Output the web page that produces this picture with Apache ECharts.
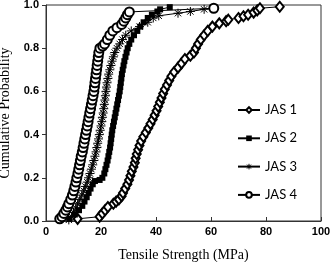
<!DOCTYPE html>
<html>
<head>
<meta charset="utf-8">
<script src="https://cdn.jsdelivr.net/npm/echarts@6/dist/echarts.min.js"></script>
<style>html,body{margin:0;padding:0;background:#fff}#c{width:331px;height:262px}</style>
</head>
<body>
<div id="c"></div>
<script>
const seriesNames = ['JAS 1', 'JAS 2', 'JAS 3', 'JAS 4'];
const xTicks = [0, 20, 40, 60, 80, 100];
const yTicks = [0.0, 0.2, 0.4, 0.6, 0.8, 1.0];

const jas1X = [11.5, 19.5, 20.5, 21.5, 22.5, 24.5, 25.5, 26.5, 27.5, 28, 28.8, 29.6, 30.2, 30.7, 31.2, 31.8, 32.3, 32.6, 33, 33.5, 34, 34.6, 35.4, 36.3, 37.2, 38, 38.8, 39.5, 40.2, 40.8, 41.4, 42, 42.6, 43.2, 44, 44.8, 45.6, 46.6, 48, 49.3, 50.5, 52.5, 53.8, 54.5, 55.3, 56.3, 57.5, 58.8, 60.5, 63, 65.5, 66.3, 70, 71.8, 73.5, 75.5, 76.8, 77.8, 85];
const jas1P = [0.01, 0.02, 0.035, 0.05, 0.065, 0.08, 0.09, 0.10, 0.115, 0.13, 0.15, 0.17, 0.19, 0.21, 0.23, 0.25, 0.27, 0.29, 0.31, 0.33, 0.35, 0.37, 0.39, 0.41, 0.43, 0.45, 0.47, 0.49, 0.51, 0.53, 0.55, 0.57, 0.59, 0.61, 0.63, 0.65, 0.67, 0.69, 0.71, 0.73, 0.75, 0.765, 0.78, 0.80, 0.82, 0.84, 0.86, 0.88, 0.90, 0.915, 0.925, 0.932, 0.94, 0.948, 0.955, 0.965, 0.975, 0.985, 0.992];

const jas2X = [8.5, 10.5, 12, 13.2, 14, 14.8, 15.5, 16.2, 17, 17.8, 19.5, 20.5, 21.2, 21.6, 22, 22.4, 22.7, 23, 23.3, 23.5, 23.7, 23.9, 24.1, 24.4, 24.7, 25, 25.3, 25.6, 25.9, 26.2, 26.5, 26.8, 27, 27.2, 27.4, 27.6, 27.9, 28.2, 28.5, 28.9, 29.3, 29.7, 30.3, 31, 32, 33.2, 34.3, 35.5, 37, 38.5, 40.5, 41.5, 45];
const jas2P = [0.01, 0.03, 0.05, 0.07, 0.09, 0.11, 0.13, 0.15, 0.17, 0.185, 0.19, 0.20, 0.22, 0.24, 0.26, 0.28, 0.30, 0.32, 0.34, 0.36, 0.38, 0.40, 0.42, 0.44, 0.46, 0.48, 0.50, 0.52, 0.54, 0.56, 0.58, 0.60, 0.62, 0.64, 0.66, 0.68, 0.70, 0.72, 0.74, 0.76, 0.78, 0.80, 0.82, 0.84, 0.86, 0.88, 0.90, 0.92, 0.94, 0.955, 0.97, 0.98, 0.99];

const jas3X = [8.3, 9.3, 10, 10.8, 11.5, 12.3, 13, 13.7, 14.3, 15, 15.5, 16, 16.5, 17, 17.4, 17.8, 18.2, 18.5, 18.8, 19.1, 19.4, 19.7, 20, 20.3, 20.5, 20.8, 21, 21.2, 21.4, 21.6, 21.8, 22, 22.2, 22.5, 22.8, 23.2, 23.6, 24, 24.5, 25, 25.8, 26.8, 27.8, 29, 31, 34, 37, 39, 41, 48, 52.5, 57.5];
const jas3P = [0.005, 0.02, 0.04, 0.06, 0.08, 0.10, 0.12, 0.14, 0.16, 0.18, 0.20, 0.22, 0.24, 0.26, 0.28, 0.30, 0.32, 0.34, 0.36, 0.38, 0.40, 0.42, 0.44, 0.46, 0.48, 0.50, 0.52, 0.54, 0.56, 0.58, 0.60, 0.62, 0.64, 0.66, 0.68, 0.70, 0.72, 0.74, 0.76, 0.78, 0.80, 0.82, 0.84, 0.86, 0.88, 0.90, 0.92, 0.94, 0.95, 0.962, 0.97, 0.98];

const jas4X = [5, 5.8, 6.5, 7.2, 7.8, 8.3, 9, 9.6, 10.1, 10.5, 10.9, 11.2, 11.6, 11.9, 12.2, 12.5, 12.8, 13.2, 13.5, 13.8, 14.1, 14.4, 14.7, 15, 15.3, 15.6, 15.9, 16.2, 16.5, 16.8, 17.1, 17.4, 17.6, 17.8, 18, 18.2, 18.4, 18.6, 18.8, 19, 19.2, 19.6, 20.6, 21.3, 22.3, 23.2, 24.3, 25.8, 27.5, 28.3, 29, 29.6, 30.3, 61];
const jas4P = [0.01, 0.02, 0.035, 0.05, 0.065, 0.08, 0.10, 0.12, 0.14, 0.16, 0.18, 0.20, 0.22, 0.24, 0.26, 0.28, 0.30, 0.32, 0.34, 0.36, 0.38, 0.40, 0.42, 0.44, 0.46, 0.48, 0.50, 0.52, 0.54, 0.56, 0.58, 0.60, 0.62, 0.64, 0.66, 0.68, 0.70, 0.72, 0.74, 0.76, 0.78, 0.80, 0.81, 0.82, 0.84, 0.86, 0.88, 0.895, 0.91, 0.925, 0.94, 0.955, 0.968, 0.985];

function pairs(xs, ps) { return xs.map((x, i) => [x, ps[i]]); }

const asterisk = 'path://M0 5 L10 5 M5 0 L5 10 M1.5 1.5 L8.5 8.5 M1.5 8.5 L8.5 1.5';

const chart = echarts.init(document.getElementById('c'), null, {renderer: 'canvas'});
const lineStyle = {color: '#000', width: 1};
chart.setOption({
  animation: false,
  backgroundColor: '#fff',
  grid: {left: 46, right: 10, top: 5, bottom: 41, show: true, borderColor: '#333', borderWidth: 1,
    containLabel: false, outerBoundsMode: 'none'},
  legend: {
    orient: 'vertical', left: 237, top: 103, padding: 0, itemWidth: 22, itemHeight: 7, itemGap: 14.3,
    itemStyle: {borderWidth: 1},
    textStyle: {fontFamily: 'Lato', fontSize: 13, color: '#000', lineHeight: 14},
    data: seriesNames
  },
  xAxis: {
    type: 'value', min: xTicks[0], max: xTicks[xTicks.length - 1], interval: 20,
    name: 'Tensile Strength (MPa)', nameLocation: 'middle', nameGap: 27,
    nameTextStyle: {fontFamily: 'Liberation Serif', fontSize: 14, color: '#000'},
    axisLine: {lineStyle: {color: '#333'}},
    axisTick: {inside: true, length: 4, lineStyle: {color: '#333'}},
    axisLabel: {fontFamily: 'Liberation Sans', fontSize: 11, fontWeight: 'bold', color: '#000', margin: 5},
    splitLine: {show: false}
  },
  yAxis: {
    type: 'value', min: 0, max: 1, interval: 0.2,
    name: 'Cumulative Probability', nameLocation: 'middle', nameGap: 33,
    nameTextStyle: {fontFamily: 'Liberation Serif', fontSize: 14, color: '#000'},
    axisLine: {show: true, lineStyle: {color: '#333'}},
    axisTick: {show: true, inside: false, length: 4, lineStyle: {color: '#333'}},
    axisLabel: {fontFamily: 'Liberation Sans', fontSize: 11, fontWeight: 'bold', color: '#000', margin: 7,
      formatter: v => v.toFixed(1)},
    splitLine: {show: false}
  },
  series: [
    {name: seriesNames[0], type: 'line', data: pairs(jas1X, jas1P), symbol: 'emptyDiamond', symbolSize: [8, 10],
      lineStyle, itemStyle: {color: '#000', borderWidth: 1}},
    {name: seriesNames[1], type: 'line', data: pairs(jas2X, jas2P), symbol: 'rect', symbolSize: 6,
      lineStyle, itemStyle: {color: '#000'}},
    {name: seriesNames[2], type: 'line', data: pairs(jas3X, jas3P), symbol: asterisk, symbolSize: 9,
      lineStyle, itemStyle: {color: '#000', borderColor: '#000', borderWidth: 1}},
    {name: seriesNames[3], type: 'line', data: pairs(jas4X, jas4P), symbol: 'emptyCircle', symbolSize: 9,
      lineStyle, itemStyle: {color: '#000', borderWidth: 1}}
  ]
});
</script>
</body>
</html>
